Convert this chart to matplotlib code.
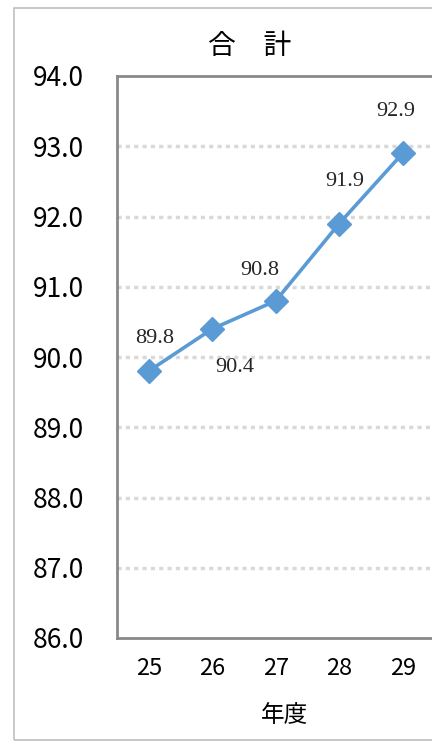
import matplotlib
matplotlib.use("Agg")
import matplotlib.pyplot as plt
from matplotlib.patches import Rectangle

years = ["25", "26", "27", "28", "29"]
values = [89.8, 90.4, 90.8, 91.9, 92.9]
y_ticks = [86.0, 87.0, 88.0, 89.0, 90.0, 91.0, 92.0, 93.0, 94.0]
title = "合\u3000計"
x_title = "年度"

# label offsets in pixels (dx, dy)
offsets = [(6, 33), (23, -39), (-16, 30), (6, 42), (-7, 42)]

plt.rcParams['font.family'] = ['Noto Sans CJK JP', 'DejaVu Sans']

W, H = 432, 741
fig = plt.figure(figsize=(W / 100, H / 100), dpi=100)

# outer chart border
fig.patches.append(Rectangle((14 / W, 1 / H), 1.2, (733 - 1) / H, transform=fig.transFigure,
                             fill=False, edgecolor='#bfbfbf', linewidth=1.2))

ax = fig.add_axes([117 / W, (H - 638) / H, 317.5 / W, 562 / H])
x = list(range(len(years)))

ax.set_xlim(-0.5, len(years) - 0.5)
ax.set_ylim(y_ticks[0], y_ticks[-1])

for t in y_ticks[1:-1]:
    ax.axhline(t, color='#d9d9d9', linewidth=2.5, linestyle=(0, (1.2, 1.2)), zorder=1)

ax.plot(x, values, color='#5b9bd5', linewidth=2.6, marker='D', markersize=12.5,
        markeredgecolor='#5b9bd5', zorder=3, clip_on=False)

for xi, v, (dx, dy) in zip(x, values, offsets):
    ax.annotate(f"{v:.1f}", (xi, v), xytext=(dx, dy), textcoords='offset pixels',
                ha='center', va='center', fontsize=16, family=['Liberation Serif', 'DejaVu Serif'],
                color='#262626')

for side in ['left', 'bottom', 'top', 'right']:
    ax.spines[side].set_color('#898989')
    ax.spines[side].set_linewidth(2)

ax.set_xticks(x)
ax.set_xticklabels(years, fontsize=17)
ax.set_yticks(y_ticks)
ax.set_yticklabels([f"{t:.1f}" for t in y_ticks], fontsize=19)
ax.tick_params(axis='both', length=0, colors='black')
ax.tick_params(axis='x', pad=14)
ax.tick_params(axis='y', pad=24)

fig.text(250 / W, 1 - 46 / H, title, ha='center', va='center', fontsize=20)
fig.text(285 / W, 1 - 716 / H, x_title, ha='center', va='center', fontsize=17)

fig.savefig("out.png", dpi=100)
